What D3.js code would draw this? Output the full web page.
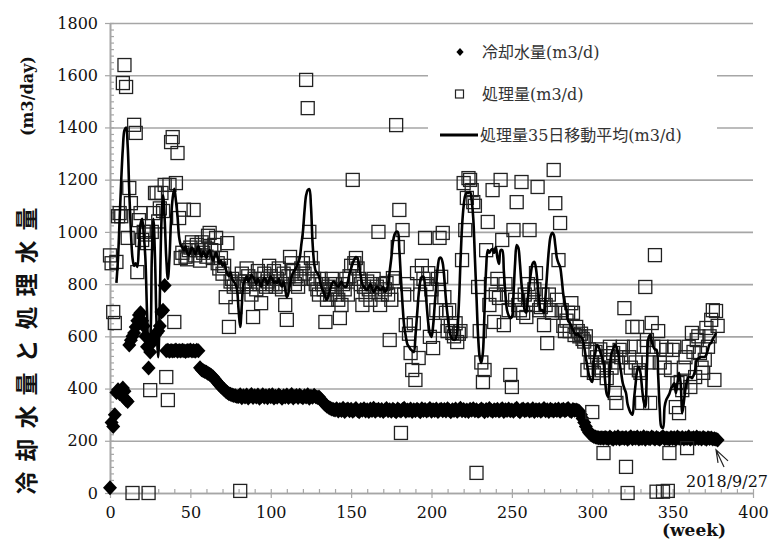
<!DOCTYPE html>
<html>
<head>
<meta charset="utf-8">
<script src="https://cdn.jsdelivr.net/npm/d3@7"></script>
<style>
  body { margin: 0; background: #fff; }
  text { font-family: "DejaVu Serif", "Noto Sans CJK JP", serif; fill: #111; }
  .cjk { font-family: "Noto Sans CJK JP", sans-serif; }
</style>
</head>
<body>
<div id="chart"></div>
<script>
// datos semanales (semana 0 .. 378)
const coolingWater = [
  20, 270, 255, 300, 385, 395, 380, 390, 402, 390,
  356, 350, 567, 585, 600, 613, 636, 660, 682, 690,
  660, 640, 600, 560, 479, 540, 574, 590, 605, 613,
  620, 640, 693, 700, 795, 545, 547, 543, 546, 544,
  545, 548, 543, 546, 544, 547, 545, 542, 546, 545,
  548, 544, 546, 543, 547, 545, 480, 472, 468, 465,
  462, 458, 455, 450, 445, 438, 430, 422, 415, 408,
  402, 396, 390, 385, 380, 378, 375, 373, 372, 370,
  370, 376, 365, 372, 368, 375, 364, 371, 377, 366,
  372, 368, 375, 363, 370, 376, 367, 372, 365, 374,
  369, 376, 364, 371, 367, 375, 370, 363, 372, 368,
  375, 366, 371, 377, 364, 370, 373, 366, 374, 369,
  365, 372, 368, 376, 363, 371, 367, 374, 369, 366,
  368, 360, 352, 345, 338, 332, 328, 325, 322, 320,
  318, 323, 314, 320, 316, 325, 312, 319, 322, 315,
  321, 313, 318, 324, 316, 311, 320, 317, 323, 314,
  319, 312, 322, 316, 325, 313, 318, 321, 315, 320,
  312, 318, 324, 315, 319, 313, 321, 316, 311, 322,
  317, 314, 320, 325, 313, 318, 316, 322, 312, 319,
  315, 321, 317, 311, 323, 316, 320, 314, 318, 324,
  313, 319, 316, 322, 312, 318, 321, 315, 320, 314,
  323, 317, 311, 319, 316, 322, 313, 318, 325, 315,
  320, 314, 318, 312, 321, 317, 323, 315, 319, 313,
  316, 322, 318, 311, 320, 315, 324, 317, 313, 319,
  316, 321, 314, 318, 323, 312, 319, 316, 322, 315,
  318, 313, 320, 325, 316, 311, 319, 322, 315, 318,
  321, 314, 317, 323, 312, 319, 316, 320, 313, 318,
  324, 315, 319, 312, 321, 317, 314, 320, 316, 322,
  313, 318, 321, 315, 319, 324, 316, 312, 320, 317,
  318, 316, 312, 300, 285, 270, 255, 242, 232, 225,
  220, 216, 214, 213, 212, 211, 212, 210, 213, 211,
  208, 214, 210, 206, 213, 209, 215, 207, 211, 212,
  209, 213, 206, 211, 215, 208, 212, 210, 214, 207,
  211, 209, 215, 206, 212, 210, 208, 214, 211, 207,
  213, 209, 206, 212, 215, 208, 211, 210, 207, 213,
  209, 212, 206, 214, 210, 208, 213, 207, 211, 209,
  215, 206, 210, 212, 208, 214, 209, 211, 207, 213,
  210, 206, 212, 209, 211, 207, 208, 206, 203
];

const treated = [
  910, 880, 693, 651, 885, 1060, 1072, 1060, 1570, 1639,
  1555, 977, 1168, 1110, 0, 1410, 1379, 846, 1045, 1072,
  969, 1000, 990, 957, 0, 394, 1000, 1072, 1149, 1149,
  1040, 1090, 1149, 1080, 1180, 444, 356, 1180, 1344, 1363,
  655, 1187, 1302, 1053, 900, 920, 1085, 905, 895, 930,
  940, 960, 1084, 910, 950, 930, 890, 960, 920, 940,
  905, 985, 996, 930, 900, 950, 977, 880, 860, 900,
  840, 870, 750, 957, 636, 810, 820, 790, 712, 800,
  800, 8, 840, 790, 810, 860, 830, 800, 760, 674,
  820, 780, 850, 800, 727, 820, 840, 790, 810, 870,
  830, 800, 850, 790, 820, 860, 800, 780, 840, 720,
  663, 830, 904, 880, 850, 800, 830, 790, 820, 860,
  880, 840, 1582, 1474, 1000, 900, 860, 820, 800, 780,
  760, 820, 800, 780, 655, 740, 790, 760, 820, 780,
  800, 760, 740, 670, 720, 800, 780, 820, 760, 830,
  870, 1199, 880, 900, 860, 820, 800, 720, 790, 760,
  810, 780, 740, 800, 820, 770, 790, 1000, 720, 760,
  800, 780, 804, 760, 586, 740, 823, 810, 1409, 942,
  1084, 230, 1007, 760, 643, 800, 610, 536, 471, 650,
  433, 842, 517, 760, 870, 820, 977, 800, 842, 598,
  780, 555, 640, 700, 820, 977, 828, 996, 750, 690,
  620, 700, 640, 613, 600, 650, 578, 610, 620, 892,
  1187, 1007, 1130, 1206, 1199, 1160, 1114, 1100, 77, 789,
  620, 500, 425, 471, 930, 1038, 720, 800, 1160, 655,
  760, 820, 747, 1199, 969, 643, 800, 760, 700, 452,
  406, 1007, 740, 1114, 720, 700, 1191, 690, 760, 674,
  800, 1007, 740, 720, 780, 842, 1172, 700, 712, 760,
  643, 720, 574, 760, 700, 690, 1237, 1110, 740, 892,
  1034, 700, 640, 620, 660, 690, 620, 727, 690, 605,
  636, 620, 600, 610, 590, 580, 600, 471, 550, 500,
  310, 460, 540, 520, 480, 550, 470, 153, 500, 440,
  524, 560, 480, 536, 383, 345, 500, 548, 520, 560,
  708, 100, 0, 520, 480, 636, 560, 500, 636, 470,
  460, 345, 560, 789, 586, 500, 345, 651, 560, 911,
  5, 620, 500, 560, 5, 480, 548, 8, 153, 471,
  548, 560, 329, 421, 306, 425, 394, 480, 520, 172,
  560, 406, 613, 540, 444, 586, 600, 536, 480, 460,
  510, 632, 560, 600, 663, 700, 433, 697, 640
];

// media móvil de 35 días (sin valor en las primeras semanas)
const movingAvg = [
  null, null, null, null, 805, 900, 1050, 1200, 1320, 1390,
  1400, 1330, 1150, 1000, 900, 870, 880, 866, 950, 1030,
  1050, 990, 900, 700, 560, 590, 900, 1050, 900, 640,
  520, 750, 1040, 1140, 1050, 900, 820, 900, 1050, 1130,
  1165, 1120, 1060, 980, 950, 940, 930, 945, 920, 910,
  925, 940, 930, 915, 930, 945, 920, 905, 925, 915,
  900, 920, 930, 910, 890, 905, 920, 900, 880, 890,
  870, 880, 860, 840, 830, 845, 820, 810, 800, 780,
  700, 636, 720, 800, 815, 830, 810, 820, 835, 827,
  815, 800, 820, 808, 790, 810, 825, 815, 800, 816,
  830, 820, 805, 810, 804, 820, 800, 790, 810, 780,
  750, 766, 800, 830, 845, 855, 866, 880, 900, 950,
  1000, 1080, 1140, 1160, 1164, 1100, 960, 880, 850, 842,
  830, 800, 780, 770, 750, 739, 760, 780, 800, 810,
  804, 795, 790, 800, 810, 795, 790, 789, 810, 840,
  860, 880, 895, 904, 900, 870, 830, 800, 790, 780,
  777, 790, 800, 785, 770, 780, 790, 785, 777, 780,
  790, 770, 777, 800, 850, 900, 960, 990, 1000, 1000,
  930, 820, 720, 640, 600, 570, 560, 550, 545, 540,
  600, 680, 760, 810, 828, 828, 790, 720, 650, 610,
  598, 640, 720, 800, 870, 900, 900, 880, 820, 740,
  680, 630, 600, 590, 586, 590, 620, 720, 880, 1020,
  1100, 1140, 1150, 1149, 1153, 1120, 1050, 900, 750, 600,
  520, 498, 540, 700, 860, 930, 920, 930, 935, 920,
  942, 900, 877, 930, 930, 850, 760, 700, 680, 670,
  674, 760, 880, 950, 940, 880, 800, 750, 700, 690,
  750, 800, 850, 880, 885, 860, 800, 740, 700, 700,
  690, 760, 850, 930, 980, 996, 990, 950, 900, 880,
  866, 820, 760, 727, 700, 660, 651, 640, 624, 613,
  605, 610, 600, 598, 590, 560, 520, 483, 450, 433,
  425, 510, 540, 567, 560, 540, 520, 500, 430, 380,
  368, 483, 536, 550, 567, 560, 540, 498, 460, 420,
  400, 383, 340, 320, 306, 300, 360, 420, 471, 483,
  460, 400, 350, 329, 480, 593, 605, 580, 560, 550,
  548, 450, 320, 253, 249, 330, 356, 368, 380, 400,
  410, 420, 383, 421, 460, 420, 306, 350, 400, 430,
  444, 445, 440, 450, 470, 510, 515, 520, 521, 521,
  521, 530, 550, 570, 575, 590, 600, 613
];

const legendLabels = ['冷却水量(m3/d)', '処理量(m3/d)', '処理量35日移動平均(m3/d)'];
const yTitle = '冷却水量と処理水量';
const yUnit = '(m3/day)';
const xTitle = '(week)';
const lastDate = '2018/9/27';

const width = 770;
const height = 542;
const margin = { top: 23, right: 17, bottom: 49, left: 110 };
const innerW = width - margin.left - margin.right;
const innerH = height - margin.top - margin.bottom;
const grey = '#a6a6a6';

const svg = d3.select('div#chart').append('svg').attr('width', width).attr('height', height);

const x = d3.scaleLinear().domain([0, 400]).range([margin.left, margin.left + innerW]);
const y = d3.scaleLinear().domain([0, 1800]).range([margin.top + innerH, margin.top]);

// rejilla
const gridGroup = svg.append('g').attr('class', 'grid')
  .attr('transform', `translate(${margin.left},0)`)
  .call(d3.axisLeft(y).tickValues(d3.range(200, 1801, 200)).tickSize(-innerW).tickFormat(''));
gridGroup.select('.domain').remove();
gridGroup.selectAll('line').attr('stroke', grey).attr('stroke-width', 1.6);

// eje y
const yAxisGroup = svg.append('g').attr('transform', `translate(${margin.left},0)`)
  .call(d3.axisLeft(y).tickValues(d3.range(0, 1801, 200)).tickFormat(d3.format('d'))
    .tickSize(5).tickSizeOuter(0).tickPadding(7));
yAxisGroup.selectAll('text').style('font-size', '16px');
const yMinor = svg.append('g').attr('transform', `translate(${margin.left},0)`)
  .call(d3.axisRight(y).tickValues(d3.range(0, 1801, 25)).tickSize(4).tickSizeOuter(0).tickFormat(''));
[yAxisGroup, yMinor].forEach(g => {
  g.selectAll('.domain').attr('stroke', grey).attr('stroke-width', 1.6);
  g.selectAll('line').attr('stroke', grey).attr('stroke-width', 1.2);
});

// eje x
const xAxisGroup = svg.append('g').attr('transform', `translate(0,${y(0)})`)
  .call(d3.axisBottom(x).tickValues(d3.range(0, 401, 50)).tickFormat(d3.format('d'))
    .tickSize(5).tickSizeOuter(0).tickPadding(9));
xAxisGroup.selectAll('text').style('font-size', '16px');
const xMinor = svg.append('g').attr('transform', `translate(0,${y(0)})`)
  .call(d3.axisTop(x).tickValues(d3.range(0, 401, 10)).tickSize(4).tickSizeOuter(0).tickFormat(''));
[xAxisGroup, xMinor].forEach(g => {
  g.selectAll('.domain').attr('stroke', grey).attr('stroke-width', 1.6);
  g.selectAll('line').attr('stroke', grey).attr('stroke-width', 1.2);
});

const elementGroup = svg.append('g').attr('class', 'elementGroup');

// 冷却水量: rombos negros
elementGroup.selectAll('path.cool').data(coolingWater).enter()
  .append('path')
  .attr('class', 'cool')
  .attr('d', 'M0,-7.5L7,0L0,7.5L-7,0Z')
  .attr('transform', (d, i) => `translate(${x(i)},${y(d)})`)
  .attr('fill', '#000');

// 処理量: cuadrados vacíos
elementGroup.selectAll('rect.treated').data(treated).enter()
  .append('rect')
  .attr('class', 'treated')
  .attr('x', (d, i) => x(i) - 6.5)
  .attr('y', d => y(d) - 6.5)
  .attr('width', 13)
  .attr('height', 13)
  .attr('fill', 'none')
  .attr('stroke', '#222')
  .attr('stroke-width', 1.3);

// media móvil
elementGroup.append('path')
  .datum(movingAvg)
  .attr('fill', 'none')
  .attr('stroke', '#000')
  .attr('stroke-width', 2.6)
  .attr('stroke-linejoin', 'round')
  .attr('d', d3.line()
    .defined(d => d !== null)
    .x((d, i) => x(i))
    .y(d => y(d))
    .curve(d3.curveCatmullRom.alpha(0.5)));

// leyenda
const legend = svg.append('g').attr('class', 'legend');
legend.append('rect').attr('x', 428).attr('y', 27).attr('width', 289).attr('height', 128).attr('fill', '#fff');
const legendY = [52, 94, 135];
legend.append('path').attr('d', 'M0,-4L3.6,0L0,4L-3.6,0Z')
  .attr('transform', `translate(460,${legendY[0]})`).attr('fill', '#000');
legend.append('rect').attr('x', 455.5).attr('y', legendY[1] - 4).attr('width', 8).attr('height', 8)
  .attr('fill', 'none').attr('stroke', '#222').attr('stroke-width', 1.2);
legend.append('line').attr('x1', 440).attr('x2', 478).attr('y1', legendY[2]).attr('y2', legendY[2])
  .attr('stroke', '#000').attr('stroke-width', 3);
legend.selectAll('text').data(legendLabels).enter()
  .append('text')
  .attr('x', (d, i) => i === 2 ? 480 : 482)
  .attr('y', (d, i) => legendY[i] + 6)
  .style('font-size', '16px')
  .style('fill', '#333')
  .text(d => d);

// títulos
svg.append('text')
  .attr('class', 'cjk')
  .attr('transform', 'translate(25,346) rotate(-90)')
  .attr('text-anchor', 'middle')
  .attr('dominant-baseline', 'central')
  .style('font-size', '23px')
  .style('font-weight', 'bold')
  .style('letter-spacing', '10px')
  .text(yTitle);
svg.append('text')
  .attr('transform', 'translate(27,96) rotate(-90)')
  .attr('text-anchor', 'middle')
  .attr('dominant-baseline', 'central')
  .style('font-size', '16px')
  .style('font-weight', 'bold')
  .text(yUnit);
svg.append('text')
  .attr('x', 694).attr('y', 536)
  .attr('text-anchor', 'middle')
  .style('font-size', '17px')
  .style('font-weight', 'bold')
  .text(xTitle);

// anotación de la última fecha
svg.append('text')
  .attr('x', 686).attr('y', 487)
  .style('font-size', '16px')
  .text(lastDate);
const tipX = x(377), tipY = y(165);
svg.append('path')
  .attr('d', `M${tipX + 2},${tipY + 13}L${tipX},${tipY}L${tipX + 12},${tipY + 11}M${tipX},${tipY}L${tipX + 8},${tipY + 17}`)
  .attr('fill', 'none')
  .attr('stroke', '#222')
  .attr('stroke-width', 1.2);
</script>
</body>
</html>
